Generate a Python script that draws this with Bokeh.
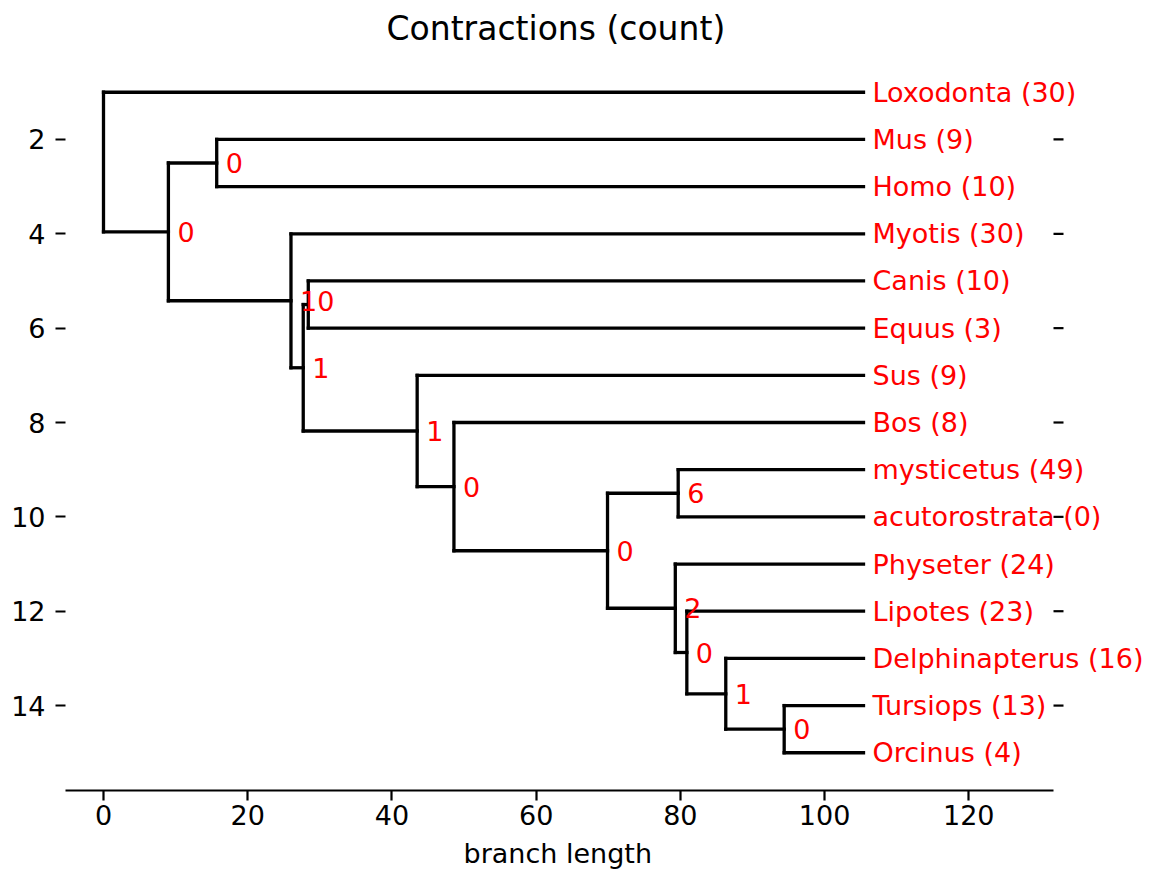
from bokeh.plotting import figure
from bokeh.models import (Range1d, SingleIntervalTicker, ColumnDataSource, Title)
from bokeh.embed import file_html
from bokeh.resources import INLINE
from bokeh.core.properties import value

# ---- data -------------------------------------------------------------
leaf_names = ["Loxodonta", "Mus", "Homo", "Myotis", "Canis", "Equus", "Sus", "Bos",
              "mysticetus", "acutorostrata", "Physeter", "Lipotes",
              "Delphinapterus", "Tursiops", "Orcinus"]
leaf_counts = [30, 9, 10, 30, 10, 3, 9, 8, 49, 0, 24, 23, 16, 13, 4]
leaf_depth = 105.4

node_names = ["root", "A", "MH", "B", "C", "D", "E", "F", "G", "H", "I", "J", "K", "L"]
node_children = [("Loxodonta", "A"), ("MH", "B"), ("Mus", "Homo"), ("Myotis", "C"),
                 ("D", "E"), ("Canis", "Equus"), ("Sus", "F"), ("Bos", "G"),
                 ("H", "I"), ("mysticetus", "acutorostrata"), ("Physeter", "J"),
                 ("Lipotes", "K"), ("Delphinapterus", "L"), ("Tursiops", "Orcinus")]
node_depth = [0.0, 9.0, 15.7, 26.0, 27.7, 28.4, 43.5, 48.6, 69.9, 79.7, 79.3, 80.9, 86.3, 94.4]
node_labels = ["", "0", "0", "10", "1", "", "1", "0", "0", "6", "2", "0", "1", "0"]

right_ticks = [2, 4, 6, 8, 10, 12, 14]

# ---- layout of the tree -----------------------------------------------
xpos = {n: leaf_depth for n in leaf_names}
ypos = {n: i + 1 for i, n in enumerate(leaf_names)}
children = {}
parent = {}
for n, d, ch in zip(node_names, node_depth, node_children):
    xpos[n] = d
    children[n] = ch
    for c in ch:
        parent[c] = n


def get_y(n):
    if n in ypos:
        return ypos[n]
    ys = [get_y(c) for c in children[n]]
    ypos[n] = 0.5 * (ys[0] + ys[-1])
    return ypos[n]


get_y("root")

x0, y0, x1, y1 = [], [], [], []
for n in list(leaf_names) + node_names:
    if n in parent:
        x0.append(xpos[parent[n]]); y0.append(ypos[n])
        x1.append(xpos[n]); y1.append(ypos[n])
for n in node_names:
    ch = children[n]
    x0.append(xpos[n]); y0.append(ypos[ch[0]])
    x1.append(xpos[n]); y1.append(ypos[ch[-1]])

seg_src = ColumnDataSource(dict(x0=x0, y0=y0, x1=x1, y1=y1))

lab_idx = [i for i, l in enumerate(node_labels) if l]
node_src = ColumnDataSource(dict(
    x=[xpos[node_names[i]] for i in lab_idx],
    y=[ypos[node_names[i]] for i in lab_idx],
    t=[node_labels[i] for i in lab_idx]))

leaf_src = ColumnDataSource(dict(
    x=[xpos[n] for n in leaf_names],
    y=[ypos[n] for n in leaf_names],
    t=[f"{n} ({c})" for n, c in zip(leaf_names, leaf_counts)]))

FONT = "DejaVu Sans"

# axes limits (matplotlib-style) and the wider drawing area used for labels
W, H = 1151, 878
BL, BR, BT, BB = 65, 0, 53, 88
axis_w = 988                      # pixel width of the axes box
xa0, xa1 = -0.05 * leaf_depth, 1.25 * leaf_depth
frame_w = W - BL - BR
x_end_view = xa0 + (xa1 - xa0) * frame_w / axis_w
px = (xa1 - xa0) / axis_w         # data units per pixel

p = figure(width=W, height=H, output_backend="svg", toolbar_location=None,
           x_range=Range1d(xa0, x_end_view),
           y_range=Range1d(15.8, 0.2),
           min_border_left=BL, min_border_right=BR, min_border_top=BT, min_border_bottom=BB)

p.outline_line_color = None
p.grid.visible = False
p.background_fill_color = "white"

p.add_layout(Title(text="Contractions (count)", text_font=FONT, text_font_size="33px",
                   text_font_style="normal", text_color="black", align="left",
                   offset=321, standoff=13), "above")

p.segment(x0="x0", y0="y0", x1="x1", y1="y1", source=seg_src,
          line_color="black", line_width=3.3, line_cap="square")

p.text(x="x", y="y", text="t", source=node_src, text_color="red",
       text_font=value(FONT), text_font_size="27px", text_baseline="middle",
       text_align="left", x_offset=9)

p.text(x="x", y="y", text="t", source=leaf_src, text_color="red",
       text_font=value(FONT), text_font_size="27px", text_baseline="middle",
       text_align="left", x_offset=9)

# right-hand tick marks of the axes box (ticks only, no spine)
p.segment(x0=[xa1] * len(right_ticks), y0=right_ticks,
          x1=[xa1 + 10 * px] * len(right_ticks), y1=right_ticks,
          line_color="black", line_width=2.2)

# x axis
xa = p.xaxis[0]
xa.bounds = (xa0, xa1)
xa.ticker = SingleIntervalTicker(interval=20, num_minor_ticks=0)
xa.major_label_text_font = FONT
xa.major_label_text_font_size = "27px"
xa.major_label_text_color = "black"
xa.major_label_standoff = 4
xa.axis_line_color = "black"
xa.axis_line_width = 2.2
xa.major_tick_line_width = 2.2
xa.major_tick_line_color = "black"
xa.major_tick_out = 10
xa.major_tick_in = 0
xa.minor_tick_line_color = None

# x-axis label, centred under the axes box
p.add_layout(Title(text="branch length", text_font=FONT, text_font_size="27px",
                   text_font_style="normal", text_color="black", align="left",
                   offset=398, standoff=17), "below")

# left y axis
ya = p.yaxis[0]
ya.ticker = SingleIntervalTicker(interval=2, num_minor_ticks=0)
ya.major_label_text_font = FONT
ya.major_label_text_font_size = "27px"
ya.major_label_text_color = "black"
ya.major_label_standoff = 10
ya.axis_line_color = None
ya.major_tick_line_width = 2.2
ya.major_tick_line_color = "black"
ya.major_tick_out = 10
ya.major_tick_in = 0
ya.minor_tick_line_color = None

open("out.html", "w").write(file_html(p, INLINE))
